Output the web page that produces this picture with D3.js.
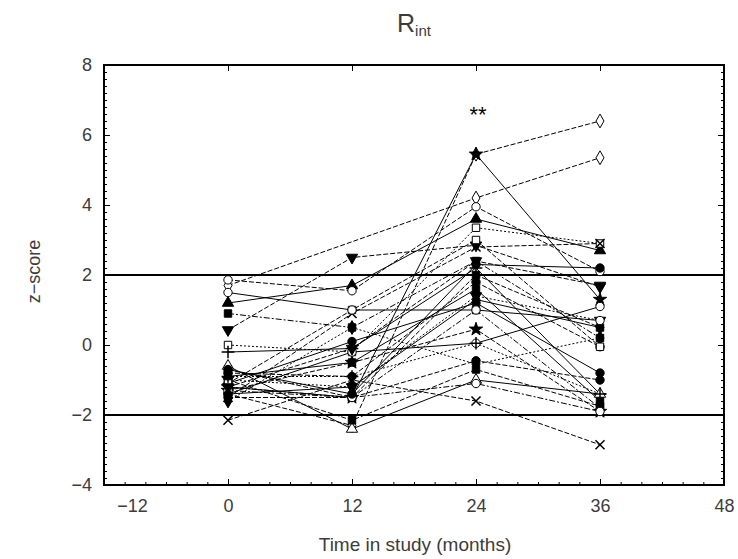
<!DOCTYPE html>
<html>
<head>
<meta charset="utf-8">
<script src="https://cdn.jsdelivr.net/npm/d3@7"></script>
<style>
  body { margin: 0; background: #fff; }
  text { font-family: "Liberation Sans", Arial, sans-serif; fill: #3c3c3c; }
</style>
</head>
<body>
<div id="chart"></div>
<script>
  // visits (months in study)
  const months = [0, 12, 24, 36];

  // z-scores per subject at each visit, null = not measured
  const z0  = [-1.4, -1.2, 1.7, 0.43, 1.2, 1.86, 0.9, 0.0, -0.2, -0.7, -0.8, -0.9, -1.0, -1.1, -1.2,
               -1.3, -1.4, -1.5, -1.6, -2.15, -0.6, -1.0, -1.3, -1.5, -0.7, -1.1, -0.9, -1.4, 1.5, -1.2];
  const z12 = [-2.3, -1.5, null, 2.5, 1.7, 1.55, 0.5, -0.2, -0.1, -1.5, -0.9, -0.5, -1.2, 0.1, -1.5,
               -0.5, -0.2, -1.5, 0.5, -1.0, -2.4, -2.15, -1.5, 0.9, -1.4, 1.0, -0.9, -1.2, 1.0, -0.1];
  const z24 = [5.45, 5.45, 4.2, 2.85, 3.6, 3.95, 2.4, 3.35, 2.2, 2.0, 1.8, 1.6, 1.4, 1.2, 1.0,
               0.45, 0.05, -0.45, -0.55, -1.6, -1.0, -0.7, -1.1, 2.8, 2.3, 3.0, 0.05, 1.3, 1.0, 2.4];
  const z36 = [6.4, 1.3, 5.35, 1.66, 2.7, 2.1, 0.2, 2.9, -1.4, 0.5, -0.05, -1.6, 0.7, -0.8, -1.8,
               -1.9, 1.1, -1.0, 0.2, -2.85, -1.4, -1.75, -1.9, 2.9, 2.2, -0.05, -1.4, 0.5, 0.7, 1.7];

  const xTicks = [-12, 0, 12, 24, 36, 48];
  const yTicks = [-4, -2, 0, 2, 4, 6, 8];
  const refLines = [-2, 2];

  // plotting style of each subject (kept apart from the values)
  const markerType = ['diamond','star','diamond','down','up','circle','square','square','plus','square',
                      'circle','square','down','circle','square','star','circle','circle','diamond','times',
                      'up','square','circle','times','circle','square','plus','diamond','circle','down'];
  const markerOpen = [1,0,1,0,0,1,0,1,1,0, 0,0,0,0,0,0,1,0,0,1, 1,0,1,1,0,1,1,0,1,0];
  const dashType   = ['dash','solid','dash','dash','solid','dash','dashdot','dot','solid','dash',
                      'dash','solid','dot','solid','dashdot','dash','solid','dash','dot','dash',
                      'solid','dash','dashdot','dash','solid','dash','dot','solid','solid','dash'];

  const W = 738, H = 559;
  const m = { left: 104, right: 14, top: 65, bottom: 74 };

  const svg = d3.select('#chart').append('svg')
    .attr('width', W).attr('height', H);

  const x = d3.scaleLinear().domain([-12, 48]).range([m.left, W - m.right]);
  const y = d3.scaleLinear().domain([-4, 8]).range([H - m.bottom, m.top]);

  svg.append('clipPath').attr('id', 'plotclip')
    .append('rect')
    .attr('x', m.left).attr('y', m.top)
    .attr('width', W - m.left - m.right).attr('height', H - m.top - m.bottom);

  // axes: labels outside, ticks inward on all sides
  let bottom = svg.append('g')
    .attr('transform', `translate(0,${H - m.bottom})`)
    .call(d3.axisBottom(x).tickValues(xTicks).tickSize(-6).tickPadding(14)
      .tickFormat(d => d < 0 ? '\u2212' + Math.abs(d) : d));
  bottom.selectAll('text').style('font-size', '18px')
    .attr('dx', d => d === -12 ? 28 : 0);

  svg.append('g')
    .attr('transform', `translate(0,${m.top})`)
    .call(d3.axisTop(x).tickValues(xTicks).tickSize(-6).tickFormat(''));

  let left = svg.append('g')
    .attr('transform', `translate(${m.left},0)`)
    .call(d3.axisLeft(y).tickValues(yTicks).tickSize(-6).tickPadding(12)
      .tickFormat(d => d < 0 ? '\u2212' + Math.abs(d) : d));
  left.selectAll('text').style('font-size', '18px');

  svg.append('g')
    .attr('transform', `translate(${W - m.right},0)`)
    .call(d3.axisRight(y).tickValues(yTicks).tickSize(-6).tickFormat(''));

  // minor ticks
  svg.append('g')
    .attr('transform', `translate(${m.left},0)`)
    .call(d3.axisLeft(y).ticks(48).tickSize(-3).tickFormat(''));
  svg.append('g')
    .attr('transform', `translate(${W - m.right},0)`)
    .call(d3.axisRight(y).ticks(48).tickSize(-3).tickFormat(''));
  svg.append('g')
    .attr('transform', `translate(0,${H - m.bottom})`)
    .call(d3.axisBottom(x).ticks(20).tickSize(-3).tickFormat(''));

  svg.selectAll('.domain').remove();
  svg.selectAll('.tick line').attr('stroke', '#000');

  // frame
  svg.append('rect')
    .attr('x', m.left).attr('y', m.top)
    .attr('width', W - m.left - m.right).attr('height', H - m.top - m.bottom)
    .attr('fill', 'none').attr('stroke', '#000').attr('stroke-width', 2);

  // reference lines at +-2
  svg.selectAll('.ref').data(refLines).enter().append('line')
    .attr('x1', m.left).attr('x2', W - m.right)
    .attr('y1', d => y(d)).attr('y2', d => y(d))
    .attr('stroke', '#000').attr('stroke-width', 2);

  const dashes = { solid: null, dash: '5,2', dot: '2,2', dashdot: '6,2,2,2' };

  let subjects = z0.map(function (v, i) {
    let vals = [z0[i], z12[i], z24[i], z36[i]];
    let pts = [];
    vals.forEach(function (z, j) {
      if (z != null) pts.push({ t: months[j], z: z });
    });
    return { pts: pts, marker: markerType[i], open: markerOpen[i], dash: dashType[i] };
  });

  const line = d3.line().x(d => x(d.t)).y(d => y(d.z));

  let plot = svg.append('g').attr('clip-path', 'url(#plotclip)');

  plot.selectAll('.subj').data(subjects).enter().append('path')
    .attr('d', d => line(d.pts))
    .attr('fill', 'none')
    .attr('stroke', '#000')
    .attr('stroke-width', 1)
    .attr('stroke-dasharray', d => dashes[d.dash]);

  function symbolFor(name) {
    switch (name) {
      case 'circle': return d3.symbolCircle;
      case 'square': return d3.symbolSquare;
      case 'diamond': return d3.symbolDiamond;
      case 'up': return d3.symbolTriangle;
      case 'down': return d3.symbolTriangle;
      case 'star': return d3.symbolStar;
      case 'plus': return d3.symbolPlus || d3.symbolCross;
      case 'times': return d3.symbolTimes || d3.symbolCross;
      default: return d3.symbolCircle;
    }
  }

  subjects.forEach(function (s) {
    let strokeOnly = s.marker === 'plus' || s.marker === 'times';
    plot.selectAll(null).data(s.pts).enter().append('path')
      .attr('d', d3.symbol().type(symbolFor(s.marker)).size(s.marker === 'star' ? 55 : 55))
      .attr('transform', d => `translate(${x(d.t)},${y(d.z)})` + (s.marker === 'down' ? ' rotate(180)' : ''))
      .attr('fill', strokeOnly ? 'none' : (s.open ? '#fff' : '#000'))
      .attr('stroke', '#000')
      .attr('stroke-width', strokeOnly ? 1.5 : 1);
  });

  // significance mark
  svg.append('text')
    .attr('x', x(24) + 2).attr('y', 122)
    .attr('text-anchor', 'middle')
    .style('font-size', '22px').style('fill', '#000')
    .text('**');

  // title R_int
  let title = svg.append('text')
    .attr('x', 414).attr('y', 32)
    .attr('text-anchor', 'middle')
    .style('font-size', '25px');
  title.append('tspan').text('R');
  title.append('tspan').attr('dy', 4).style('font-size', '15px').text('int');

  svg.append('text')
    .attr('x', 415).attr('y', 551)
    .attr('text-anchor', 'middle')
    .style('font-size', '19px')
    .text('Time in study (months)');

  svg.append('text')
    .attr('transform', `translate(40,${y(2.1)}) rotate(-90)`)
    .attr('text-anchor', 'middle')
    .style('font-size', '18px')
    .text('z\u2212score');
</script>
</body>
</html>
